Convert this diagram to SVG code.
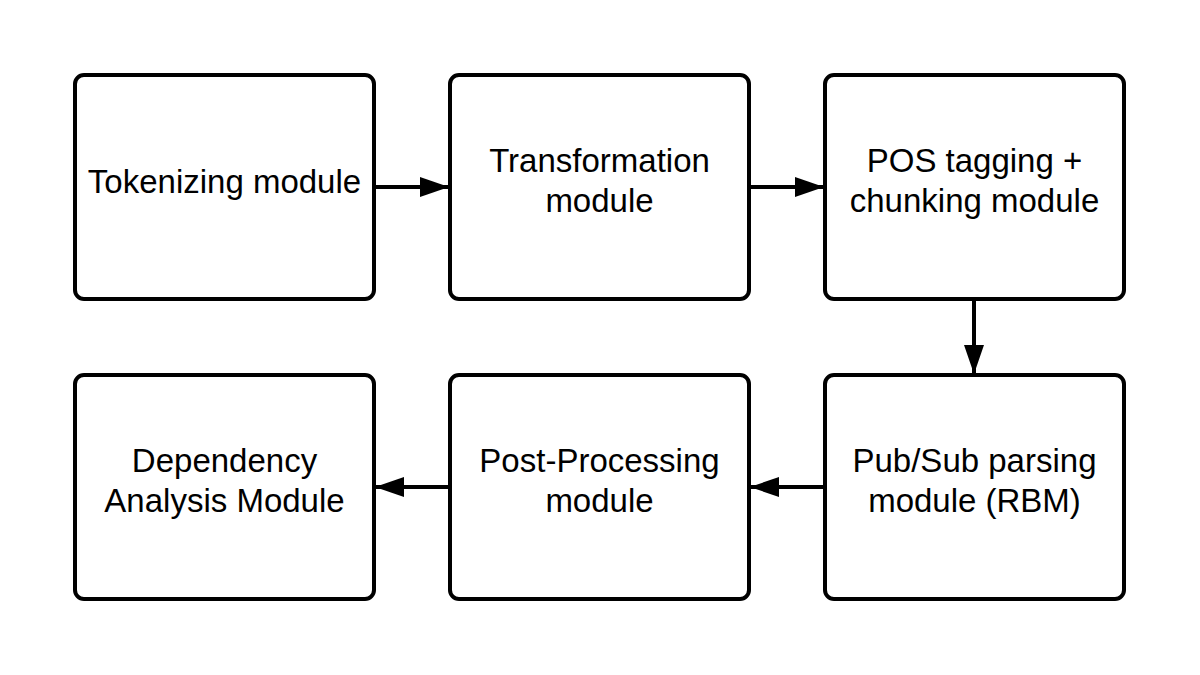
<svg xmlns="http://www.w3.org/2000/svg" width="1200" height="675" viewBox="0 0 1200 675">
<defs>
<style>
.box{fill:#fff;stroke:#000;stroke-width:4}
.lbl{font-family:"Liberation Sans",Arial,sans-serif;font-size:33px;fill:#000;text-anchor:middle}
.con{stroke:#000;stroke-width:4;fill:none}
</style>
<marker id="ah" markerWidth="30" markerHeight="20" refX="28" refY="10" orient="auto" markerUnits="userSpaceOnUse">
<path d="M0,0 L29,10 L0,20 Z" fill="#000"/>
</marker>
</defs>
<rect width="1200" height="675" fill="#fff"/>
<g id="n1"><rect class="box" x="75" y="75" width="299" height="224" rx="9"/><text class="lbl" x="224.5" y="193">Tokenizing module</text></g>
<g id="n2"><rect class="box" x="450" y="75" width="299" height="224" rx="9"/><text class="lbl" x="599.5" y="172">Transformation</text><text class="lbl" x="599.5" y="212">module</text></g>
<g id="n3"><rect class="box" x="825" y="75" width="299" height="224" rx="9"/><text class="lbl" x="974.5" y="172">POS tagging +</text><text class="lbl" x="974.5" y="212">chunking module</text></g>
<g id="n4"><rect class="box" x="825" y="375" width="299" height="224" rx="9"/><text class="lbl" x="974.5" y="472">Pub/Sub parsing</text><text class="lbl" x="974.5" y="512">module (RBM)</text></g>
<g id="n5"><rect class="box" x="450" y="375" width="299" height="224" rx="9"/><text class="lbl" x="599.5" y="472">Post-Processing</text><text class="lbl" x="599.5" y="512">module</text></g>
<g id="n6"><rect class="box" x="75" y="375" width="299" height="224" rx="9"/><text class="lbl" x="224.5" y="472">Dependency</text><text class="lbl" x="224.5" y="512">Analysis Module</text></g>
<g id="connectors">
<line class="con" x1="376" y1="187" x2="448" y2="187" marker-end="url(#ah)"/>
<line class="con" x1="751" y1="187" x2="823" y2="187" marker-end="url(#ah)"/>
<line class="con" x1="974" y1="301" x2="974" y2="373" marker-end="url(#ah)"/>
<line class="con" x1="823" y1="487" x2="751" y2="487" marker-end="url(#ah)"/>
<line class="con" x1="448" y1="487" x2="376" y2="487" marker-end="url(#ah)"/>
</g>
</svg>
